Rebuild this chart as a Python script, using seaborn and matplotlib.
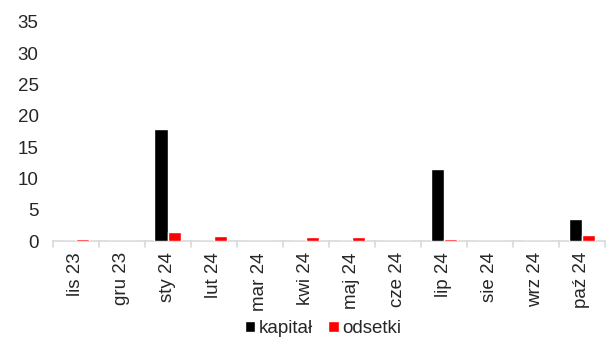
import pandas as pd
import matplotlib
matplotlib.use('Agg')
import matplotlib.pyplot as plt
import seaborn as sns

# Data
months = ['lis 23', 'gru 23', 'sty 24', 'lut 24', 'mar 24', 'kwi 24',
          'maj 24', 'cze 24', 'lip 24', 'sie 24', 'wrz 24', 'paź 24']
kapital = [0, 0, 17.9, 0, 0, 0, 0, 0, 11.5, 0, 0, 3.6]
odsetki = [0.3, 0.0, 1.4, 0.8, 0.05, 0.65, 0.65, 0.05, 0.37, 0.0, 0.0, 0.95]

df = pd.DataFrame({'month': months * 2,
                   'value': kapital + odsetki,
                   'series': ['kapitał'] * len(months) + ['odsetki'] * len(months)})

sns.set_style('white')
plt.rcParams['font.family'] = ['Liberation Sans', 'DejaVu Sans']

fig = plt.figure(figsize=(6.11, 3.43), dpi=100)
ax = fig.add_axes([0.086, 0.297, 0.904, 0.639])

sns.barplot(data=df, x='month', y='value', hue='series', order=months,
            palette={'kapitał': '#000000', 'odsetki': '#ff0000'},
            width=0.57, saturation=1, ax=ax, legend=True, zorder=3)

ax.set_ylabel('')
ax.set_xlabel('')
ax.set_yticks(range(0, 36, 5))
ax.tick_params(axis='y', labelsize=13.5, length=0, pad=10)
ax.tick_params(axis='x', labelsize=13.5, rotation=90, length=0, pad=8)

for s in ['top', 'right', 'left']:
    ax.spines[s].set_visible(False)
ax.spines['bottom'].set_color('#d9d9d9')
ax.spines['bottom'].set_linewidth(1.2)
ax.spines['bottom'].set_zorder(1)

# tick marks between categories on the x axis
for i in range(len(months) + 1):
    ax.plot([i - 0.5, i - 0.5], [0, -0.9], color='#d9d9d9', lw=1.2, clip_on=False, zorder=1)

ax.set_xlim(-0.5, len(months) - 0.5)
ax.set_ylim(0, 35)

ax.legend(loc='center', bbox_to_anchor=(0.49, -0.40), ncol=2, frameon=False,
          fontsize=13.5, handlelength=0.55, handleheight=0.55, handletextpad=0.2,
          columnspacing=0.8)

fig.savefig('out.png', dpi=100)
